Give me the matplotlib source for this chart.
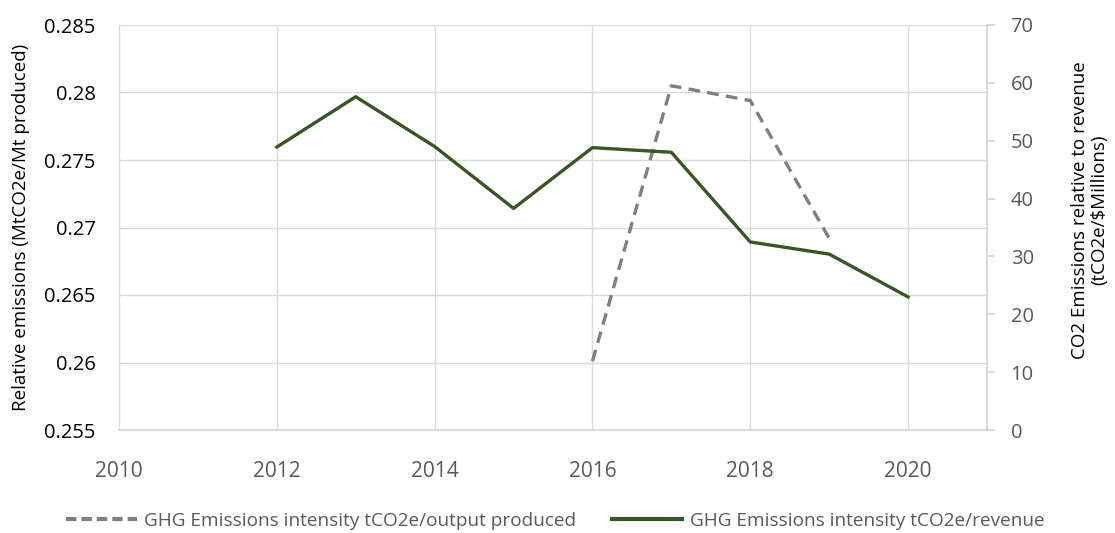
import matplotlib
matplotlib.use("Agg")
import matplotlib.pyplot as plt
from matplotlib.lines import Line2D

plt.rcParams["font.family"] = ["Open Sans", "DejaVu Sans"]

# ----------------------------------------------------------------------
# Data
# ----------------------------------------------------------------------
output_years = [2016, 2017, 2018, 2019]
output_intensity = [0.2601, 0.2805, 0.2794, 0.2692]   # MtCO2e / Mt produced

revenue_years = [2012, 2013, 2014, 2015, 2016, 2017, 2018, 2019, 2020]
revenue_intensity = [48.9, 57.6, 49.0, 38.3, 48.8, 48.0, 32.5, 30.4, 23.0]  # tCO2e / $M

left_ticks = [0.255, 0.26, 0.265, 0.27, 0.275, 0.28, 0.285]
left_labels = ["0.255", "0.26", "0.265", "0.27", "0.275", "0.28", "0.285"]
right_ticks = [0, 10, 20, 30, 40, 50, 60, 70]
x_ticks = [2010, 2012, 2014, 2016, 2018, 2020]

LABEL_OUTPUT = "GHG Emissions intensity tCO2e/output produced"
LABEL_REVENUE = "GHG Emissions intensity tCO2e/revenue"

COL_GREY = "#7f7f7f"
COL_GREEN = "#375623"
COL_GRID = "#d9d9d9"
COL_TICK = "#595959"
DASH = (0, (3.5, 2.2))
LW = 2.4

fig = plt.figure(figsize=(11.15, 5.33), dpi=100)
ax = fig.add_axes([119 / 1115, 1 - 430 / 533, (987 - 119) / 1115, (430 - 25) / 533])
ax2 = ax.twinx()

ax.plot(output_years, output_intensity, color=COL_GREY, lw=LW, ls=DASH, zorder=3)
ax2.plot(revenue_years, revenue_intensity, color=COL_GREEN, lw=LW, zorder=3)

ax.set_xlim(2010, 2021)
ax.set_ylim(0.255, 0.285)
ax2.set_ylim(0, 70)

ax.set_xticks(x_ticks)
ax.set_yticks(left_ticks)
ax.set_yticklabels(left_labels)
ax2.set_yticks(right_ticks)

ax.grid(True, color=COL_GRID, lw=1.0)
ax.set_axisbelow(True)

for a in (ax, ax2):
    for s in ("top", "left", "right", "bottom"):
        a.spines[s].set_visible(False)
ax2.spines["right"].set_visible(True)
ax2.spines["right"].set_color(COL_GRID)
ax2.spines["right"].set_linewidth(1.5)
ax.spines["bottom"].set_visible(True)
ax.spines["bottom"].set_color(COL_GRID)
ax.spines["bottom"].set_linewidth(1.5)

ax.tick_params(axis="x", length=0, pad=22, labelsize=15, labelcolor=COL_TICK)
ax.tick_params(axis="y", length=0, pad=17, labelsize=14.5, labelcolor="black")
ax2.tick_params(axis="y", length=6, width=1.5, color=COL_GRID, pad=11,
                labelsize=14.5, labelcolor=COL_TICK)

ax.set_ylabel("Relative emissions (MtCO2e/Mt produced)", fontsize=13.5)
ax.yaxis.set_label_coords(-0.1025, 0.5)
ax2.set_ylabel("CO2 Emissions relative to revenue\n(tCO2e/$Millions)",
               fontsize=13.5, rotation=90, linespacing=1.1)
ax2.yaxis.set_label_coords(1.097, 0.543)

handles = [
    Line2D([], [], color=COL_GREY, lw=LW + 0.6, ls=(0, (2.5, 1.2))),
    Line2D([], [], color=COL_GREEN, lw=LW + 0.6),
]
fig.legend(handles, [LABEL_OUTPUT, LABEL_REVENUE], loc="center",
           bbox_to_anchor=(0.498, 1 - 521 / 533), ncol=2, frameon=False,
           fontsize=13.7, handlelength=3.7, handletextpad=0.37,
           columnspacing=1.9, labelcolor=COL_TICK)

fig.savefig("out.png", dpi=100)
